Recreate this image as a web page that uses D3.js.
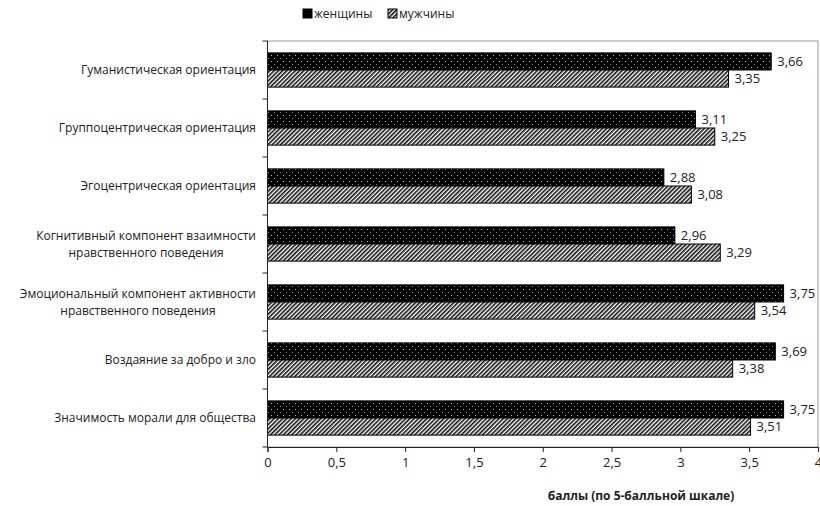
<!DOCTYPE html>
<html>
<head>
<meta charset="utf-8">
<script src="https://cdn.jsdelivr.net/npm/d3@7"></script>
<style>
  body { margin: 0; background: #fff; }
  svg text { font-family: "Open Sans", "Noto Sans", sans-serif; fill: #222; }
</style>
</head>
<body>
<div id="chart"></div>
<script>
// data
var categories = [
    ["Гуманистическая ориентация"],
    ["Группоцентрическая ориентация"],
    ["Эгоцентрическая ориентация"],
    ["Когнитивный компонент взаимности", "нравственного поведения"],
    ["Эмоциональный компонент активности", "нравственного поведения"],
    ["Воздаяние за добро и зло"],
    ["Значимость морали для общества"]
];
var women = [3.66, 3.11, 2.88, 2.96, 3.75, 3.69, 3.75];
var men = [3.35, 3.25, 3.08, 3.29, 3.54, 3.38, 3.51];
var series_names = ["женщины", "мужчины"];
var x_ticks = [0, 0.5, 1, 1.5, 2, 2.5, 3, 3.5, 4];

var width = 820, height = 506;
var plot = { left: 267.5, right: 818, top: 41, bottom: 447 };

var svg = d3.select("#chart").append("svg")
            .attr("width", width)
            .attr("height", height);

// patterns
var defs = svg.append("defs");
var dots = defs.append("pattern")
               .attr("id", "dots")
               .attr("patternUnits", "userSpaceOnUse")
               .attr("width", 6).attr("height", 6);
dots.append("rect").attr("width", 6).attr("height", 6).attr("fill", "#000");
dots.append("rect").attr("x", 1).attr("y", 1).attr("width", 1).attr("height", 1).attr("fill", "#bbb");
dots.append("rect").attr("x", 4).attr("y", 4).attr("width", 1).attr("height", 1).attr("fill", "#888");

var hatch = defs.append("pattern")
                .attr("id", "hatch")
                .attr("patternUnits", "userSpaceOnUse")
                .attr("width", 3).attr("height", 3)
                .attr("patternTransform", "rotate(45)");
hatch.append("rect").attr("width", 3).attr("height", 3).attr("fill", "#fff");
hatch.append("rect").attr("width", 1.6).attr("height", 3).attr("fill", "#111");

var x = d3.scaleLinear().domain([0, 4]).range([plot.left, plot.right]);
var y = d3.scaleBand().domain(d3.range(categories.length))
          .range([plot.top, plot.bottom])
          .paddingInner(0.41).paddingOuter(0.205);
var y_cat = d3.scaleBand().domain(d3.range(categories.length))
              .range([plot.top, plot.bottom]);

// plot area border
svg.append("rect")
   .attr("x", plot.left).attr("y", plot.top)
   .attr("width", plot.right - plot.left).attr("height", plot.bottom - plot.top)
   .attr("fill", "none").attr("stroke", "#999").attr("stroke-width", 1);

var rows = categories.map(function (c, i) {
    return { i: i, women: women[i], men: men[i] };
});

var bh = y.bandwidth() / 2;
var g = svg.selectAll("g.row").data(rows).enter().append("g").attr("class", "row");

g.append("rect")
 .attr("x", x(0))
 .attr("y", function (d) { return y(d.i); })
 .attr("width", function (d) { return x(d.women) - x(0); })
 .attr("height", bh)
 .attr("fill", "url(#dots)")
 .attr("stroke", "#000").attr("stroke-width", 1);

g.append("rect")
 .attr("x", x(0))
 .attr("y", function (d) { return y(d.i) + bh; })
 .attr("width", function (d) { return x(d.men) - x(0); })
 .attr("height", bh)
 .attr("fill", "url(#hatch)")
 .attr("stroke", "#000").attr("stroke-width", 1);

var fmt = function (v) { return d3.format(".2f")(v).replace(".", ","); };

g.append("text")
 .attr("x", function (d) { return x(d.women) + 6; })
 .attr("y", function (d) { return y(d.i) + bh / 2; })
 .attr("dy", "0.35em")
 .style("font-size", "13px")
 .text(function (d) { return fmt(d.women); });

g.append("text")
 .attr("x", function (d) { return x(d.men) + 6; })
 .attr("y", function (d) { return y(d.i) + bh * 1.5; })
 .attr("dy", "0.35em")
 .style("font-size", "13px")
 .text(function (d) { return fmt(d.men); });

// x axis
var x_axis = svg.append("g")
                .attr("transform", "translate(0," + plot.bottom + ")")
                .call(d3.axisBottom(x).tickValues(x_ticks).tickSizeOuter(0).tickSize(5).tickPadding(6)
                        .tickFormat(function (d) { return String(d).replace(".", ","); }));
x_axis.select(".domain").attr("stroke", "#222");
x_axis.selectAll(".tick line").attr("stroke", "#222");
x_axis.selectAll("text").style("font-size", "13px").style("font-family", null);

// y axis
var y_axis = svg.append("g").attr("transform", "translate(" + plot.left + ",0)");
y_axis.append("line")
      .attr("x1", 0).attr("x2", 0).attr("y1", plot.top).attr("y2", plot.bottom)
      .attr("stroke", "#222");
y_axis.selectAll("line.tick").data(d3.range(categories.length + 1)).enter()
      .append("line").attr("class", "tick")
      .attr("x1", -5).attr("x2", 0)
      .attr("y1", function (d) { return d < categories.length ? y_cat(d) : plot.bottom; })
      .attr("y2", function (d) { return d < categories.length ? y_cat(d) : plot.bottom; })
      .attr("stroke", "#222");

// category labels
var label_right = 256;
categories.forEach(function (lines, i) {
    var cy = y_cat(i) + y_cat.bandwidth() / 2;
    var t = svg.append("text").style("font-size", "12px");
    var lh = 17;
    var spans = lines.map(function (s, k) {
        return t.append("tspan").attr("y", cy + (k - (lines.length - 1) / 2) * lh).attr("dy", "0.35em").text(s);
    });
    var maxw = d3.max(spans, function (s) { return s.node().getComputedTextLength(); });
    spans.forEach(function (s) {
        s.attr("x", label_right - maxw / 2).attr("text-anchor", "middle");
    });
});

// axis title
svg.append("text")
   .attr("x", 641).attr("y", 500)
   .attr("text-anchor", "middle")
   .style("font-size", "12px").style("font-weight", "bold")
   .text("баллы (по 5-балльной шкале)");

// legend
var legend = svg.append("g").attr("transform", "translate(303,9)");
var fills = ["#000", "url(#hatch)"];
var lx = [0, 85];
series_names.forEach(function (name, i) {
    legend.append("rect").attr("x", lx[i]).attr("y", 0).attr("width", 9).attr("height", 9)
          .attr("fill", fills[i]).attr("stroke", "#000");
    legend.append("text").attr("x", lx[i] + 11).attr("y", 4.5).attr("dy", "0.35em")
          .style("font-size", "12px").text(name);
});
</script>
</body>
</html>
